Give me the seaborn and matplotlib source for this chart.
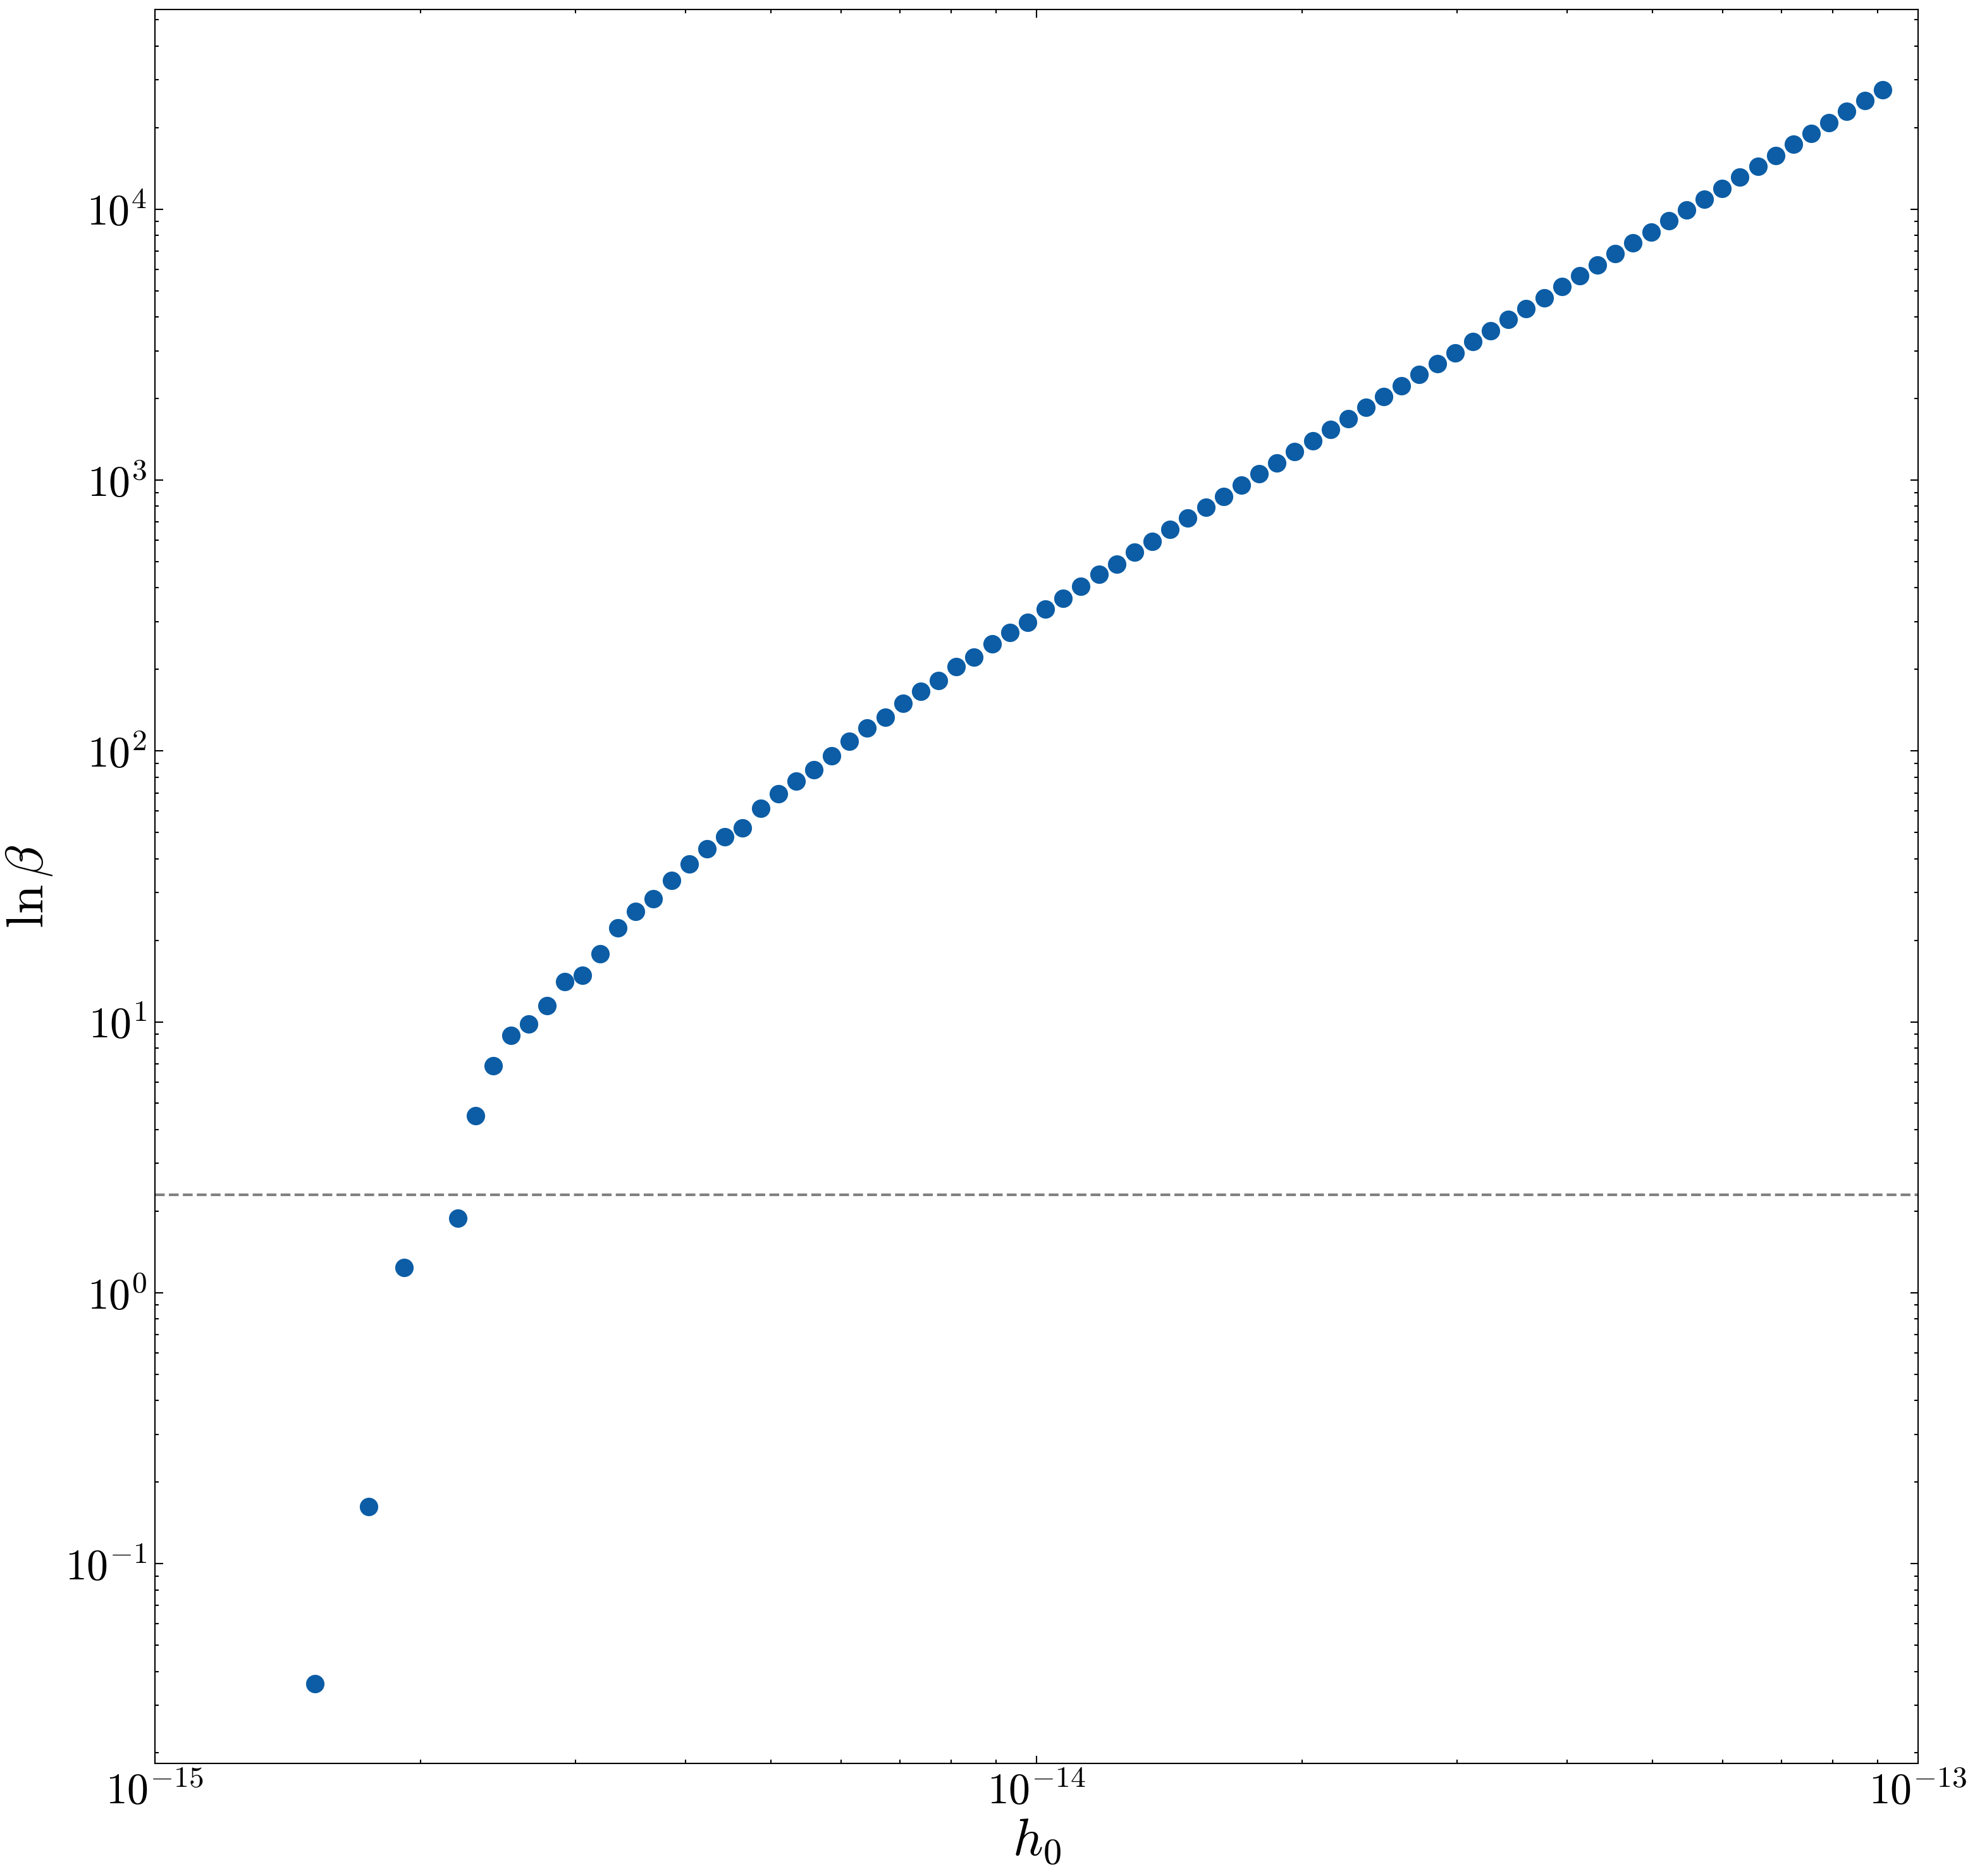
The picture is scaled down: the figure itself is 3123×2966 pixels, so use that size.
import numpy as np
import pandas as pd
import matplotlib
matplotlib.use("Agg")
import matplotlib.pyplot as plt
import matplotlib.ticker as mticker
import seaborn as sns

# h0 grid points (units of 1e-15) that have a positive ln(beta)
h0_e15 = [
    1.520, 1.748, 1.918, 2.205, 2.310, 2.420, 2.535, 2.656, 2.783, 2.915,
    3.054, 3.199, 3.352, 3.511, 3.678, 3.854, 4.037, 4.229, 4.431, 4.642,
    4.863, 5.094, 5.337, 5.591, 5.857, 6.136, 6.428, 6.734, 7.055, 7.391,
    7.743, 8.111, 8.498, 8.902, 9.326, 9.770, 10.235, 10.723, 11.233, 11.768,
    12.328, 12.915, 13.530, 14.175, 14.850, 15.557, 16.298, 17.074, 17.886, 18.738,
    19.630, 20.565, 21.544, 22.570, 23.645, 24.771, 25.950, 27.186, 28.480, 29.836,
    31.257, 32.745, 34.305, 35.938, 37.649, 39.442, 41.320, 43.288, 45.349, 47.508,
    49.770, 52.140, 54.623, 57.224, 59.948, 62.803, 65.793, 68.926, 72.208, 75.646,
    79.248, 83.022, 86.975, 91.116,
]

ln_beta = [
    0.0361, 0.1625, 1.236, 1.888, 4.49, 6.90, 8.92, 9.83, 11.50, 14.09,
    14.81, 17.85, 22.24, 25.6, 28.5, 33.3, 38.3, 43.4, 48.3, 52.1,
    61.5, 69.6, 77.5, 85.4, 96.1, 108.8, 121.3, 133.2, 150.1, 166.3,
    182.1, 205.1, 222.3, 248.0, 274.2, 298.9, 334.6, 366.4, 406.1, 447.5,
    489.8, 542.9, 594.3, 658.5, 722.6, 794.5, 871.4, 959, 1057, 1158,
    1276, 1398, 1540, 1687, 1858, 2037, 2232, 2458, 2694, 2951,
    3251, 3562, 3925, 4299, 4711, 5189, 5686, 6231, 6851, 7524,
    8241, 9078, 9947, 10900, 11945, 13154, 14413, 15793, 17398, 19064,
    20890, 23010, 25210, 27620,
]

threshold = 2.303  # ln(10)

df = pd.DataFrame({"h0": np.array(h0_e15) * 1e-15, "ln_beta": ln_beta})

sns.set_style("ticks")
plt.rcParams.update({
    "font.family": ["serif"],
    "font.serif": ["cmr10", "DejaVu Serif"],
    "mathtext.fontset": "cm",
    "axes.unicode_minus": False,
    "text.color": "black",
    "axes.labelcolor": "black",
    "axes.edgecolor": "black",
    "xtick.color": "black",
    "ytick.color": "black",
    "axes.linewidth": 0.5,
    "xtick.direction": "in",
    "ytick.direction": "in",
    "xtick.top": True,
    "ytick.right": True,
    "xtick.major.size": 3,
    "ytick.major.size": 3,
    "xtick.minor.size": 1.5,
    "ytick.minor.size": 1.5,
    "xtick.major.width": 0.5,
    "ytick.major.width": 0.5,
    "xtick.minor.width": 0.5,
    "ytick.minor.width": 0.5,
    "xtick.minor.visible": True,
    "ytick.minor.visible": True,
})

fig = plt.figure(figsize=(10.41, 9.887), dpi=300)
ax = fig.add_axes([245 / 3123, 1 - 2788 / 2966, (3033 - 245) / 3123, (2788 - 15) / 2966])

sns.scatterplot(data=df, x="h0", y="ln_beta", ax=ax, color="#0C5DA5",
                s=49, linewidth=0, zorder=3)
ax.axhline(threshold, color="gray", linestyle="--", linewidth=1)

ax.set_xscale("log")
ax.set_yscale("log")
ax.set_xlim(1e-15, 1e-13)
ax.set_ylim(0.0183, 5.46e4)

fmt = mticker.FuncFormatter(lambda v, pos: r"$10^{%d}$" % round(np.log10(v)))
ax.xaxis.set_major_formatter(fmt)
ax.yaxis.set_major_formatter(fmt)
ax.xaxis.set_minor_locator(mticker.LogLocator(base=10, subs=np.arange(2, 10), numticks=20))
ax.yaxis.set_minor_locator(mticker.LogLocator(base=10, subs=np.arange(2, 10), numticks=20))
ax.xaxis.set_minor_formatter(mticker.NullFormatter())
ax.yaxis.set_minor_formatter(mticker.NullFormatter())
ax.tick_params(axis="both", which="major", labelsize=16.3, pad=3)

ax.set_xlabel(r"$h_0$", fontsize=20, labelpad=2)
ax.set_ylabel(r"$\ln\beta$", fontsize=20, labelpad=4)

fig.savefig("out.png", dpi=300)
plt.close(fig)
